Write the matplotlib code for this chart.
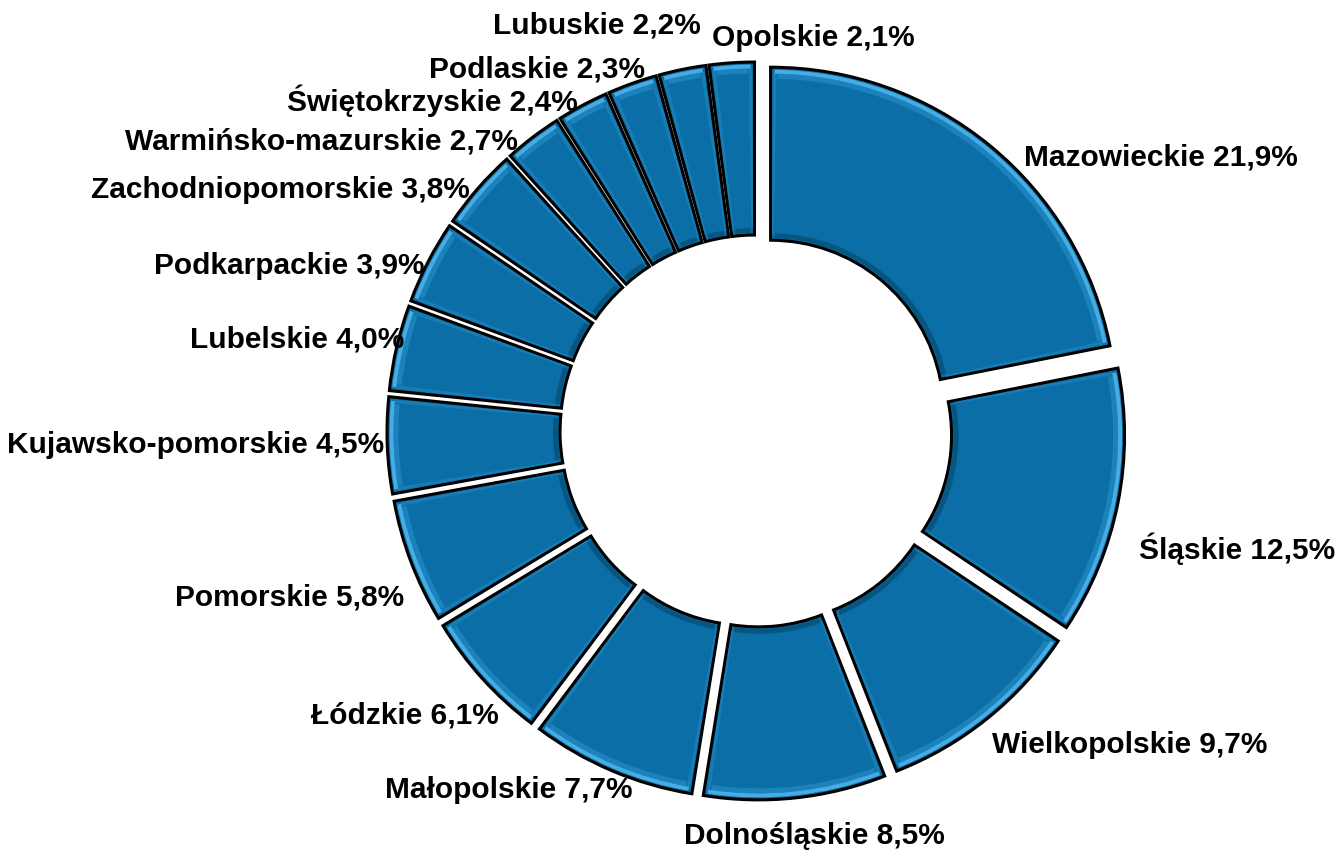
import matplotlib
matplotlib.use("Agg")
import math
import matplotlib.pyplot as plt
from matplotlib.patches import Wedge

regions = ["Mazowieckie", "Śląskie", "Wielkopolskie", "Dolnośląskie", "Małopolskie",
           "Łódzkie", "Pomorskie", "Kujawsko-pomorskie", "Lubelskie", "Podkarpackie",
           "Zachodniopomorskie", "Warmińsko-mazurskie", "Świętokrzyskie", "Podlaskie",
           "Lubuskie", "Opolskie"]
shares = [21.9, 12.5, 9.7, 8.5, 7.7, 6.1, 5.8, 4.5, 4.0, 3.9, 3.8, 2.7, 2.4, 2.3, 2.2, 2.1]

# label anchor points (pixel space, origin top-left)
label_xy = [(1161, 158), (1237, 549), (1130, 745), (814, 836), (509, 790),
            (405, 716), (290, 598), (196, 445), (297, 340), (289, 266),
            (280, 190), (321, 141), (432, 101), (537, 70), (597, 25), (813, 38)]

W, H = 1337, 852
fig = plt.figure(figsize=(W / 100, H / 100), dpi=100)
ax = fig.add_axes([0, 0, 1, 1])

BASE = "#0B6EA6"
R_OUT, R_IN = 346, 173
cx, cy = 756, H - 431

wedges, _ = ax.pie(shares, radius=R_OUT, center=(cx, cy), startangle=90,
                   counterclock=False, explode=[23] * len(shares),
                   wedgeprops=dict(width=R_OUT - R_IN, facecolor=BASE,
                                   edgecolor="black", linewidth=2.2),
                   normalize=True)


def deg(px, r):
    return math.degrees(px / r)


# bevel shading inside each ring segment
for w in wedges:
    c = w.center
    t1, t2 = w.theta1, w.theta2
    # bright rim just inside the outer arc
    ax.add_patch(Wedge(c, R_OUT - 2.5, t1 + deg(4, R_OUT), t2 - deg(4, R_OUT), width=4,
                       facecolor="#4DB3EA", edgecolor="none", alpha=0.9, zorder=3))
    ax.add_patch(Wedge(c, R_OUT - 6.5, t1 + deg(7, R_OUT), t2 - deg(7, R_OUT), width=5,
                       facecolor="#2790CC", edgecolor="none", alpha=0.6, zorder=3))
    # soft light bands along the radial sides
    ax.add_patch(Wedge(c, R_OUT - 6, t1 + deg(2.5, R_OUT), t1 + deg(6, R_OUT),
                       width=R_OUT - R_IN - 12, facecolor="#2A8FC8", edgecolor="none",
                       alpha=0.45, zorder=3))
    ax.add_patch(Wedge(c, R_OUT - 6, t2 - deg(6, R_OUT), t2 - deg(2.5, R_OUT),
                       width=R_OUT - R_IN - 12, facecolor="#2A8FC8", edgecolor="none",
                       alpha=0.45, zorder=3))
    # shadow along the inner arc
    ax.add_patch(Wedge(c, R_IN + 7, t1 + deg(4, R_IN), t2 - deg(4, R_IN), width=5,
                       facecolor="#054466", edgecolor="none", alpha=0.55, zorder=3))

for name, val, (lx, ly) in zip(regions, shares, label_xy):
    txt = f"{name} {val:.1f}%".replace(".", ",")
    ax.text(lx, H - ly, txt, ha="center", va="center", fontsize=21.5,
            fontweight="bold", family=["Liberation Sans", "DejaVu Sans"],
            color="black", zorder=5)

ax.set_xlim(0, W)
ax.set_ylim(0, H)
ax.set_aspect("equal")
ax.axis("off")
fig.savefig("out.png", dpi=100, facecolor="white")
